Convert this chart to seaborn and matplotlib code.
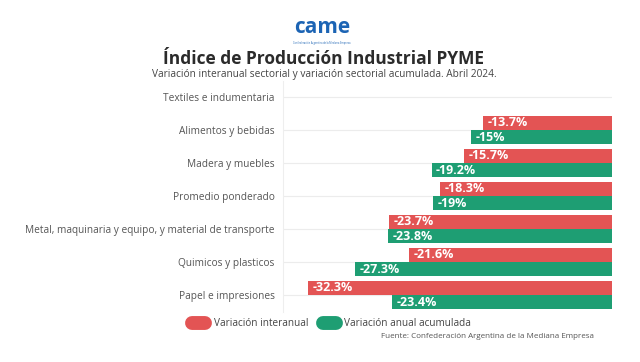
import numpy as np
import pandas as pd
import matplotlib.pyplot as plt
from matplotlib.lines import Line2D
import seaborn as sns

categories = ['Textiles e indumentaria', 'Alimentos y bebidas', 'Madera y muebles',
              'Promedio ponderado', 'Metal, maquinaria y equipo, y material de transporte',
              'Quimicos y plasticos', 'Papel e impresiones']
interanual = [np.nan, -13.7, -15.7, -18.3, -23.7, -21.6, -32.3]
acumulada = [np.nan, -15.0, -19.2, -19.0, -23.8, -27.3, -23.4]
series = ['Variación interanual', 'Variación anual acumulada']
colors = ['#e35454', '#1e9e73']

df = pd.DataFrame({
    'sector': categories * 2,
    'serie': [series[0]] * len(categories) + [series[1]] * len(categories),
    'valor': interanual + acumulada,
})

sns.set_style('white')
plt.rcParams['font.family'] = ['Open Sans', 'DejaVu Sans']

fig = plt.figure(figsize=(6.4, 3.62), dpi=100)
ax = fig.add_axes([283 / 640, 1 - 311.5 / 362, 329 / 640, 231 / 362])

sns.barplot(data=df, y='sector', x='valor', hue='serie', order=categories,
            hue_order=series, palette=colors, orient='h', width=0.86,
            saturation=1, legend=False, linewidth=0, ax=ax, zorder=2)

ax.set_xlim(-35, 0)
ax.set_ylim(len(categories) - 0.5, -0.5)
for i in range(len(categories)):
    ax.axhline(i, color='#ececec', lw=0.8, zorder=0)

# value labels inside the left end of each bar (NaN rows have no bar)
for cont, vals in zip(ax.containers, [interanual, acumulada]):
    shown = [v for v in vals if not np.isnan(v)]
    for bar, v in zip(cont, shown):
        ax.text(v + 0.45, bar.get_y() + bar.get_height() / 2, f'{v:g}%',
                color='white', fontsize=9, fontweight='bold', va='center', ha='left', zorder=3)

ax.set_xlabel('')
ax.set_ylabel('')
ax.set_xticks([])
ax.tick_params(axis='y', length=0, pad=6, labelsize=7.3, labelcolor='#555555')
for s in ['top', 'right', 'bottom']:
    ax.spines[s].set_visible(False)
ax.spines['left'].set_color('#eeeeee')

# header
fig.text(0.503, 0.925, 'came', ha='center', va='center', fontsize=15,
         fontweight='bold', color='#1c64b4')
fig.text(0.503, 0.880, 'Confederación Argentina de la Mediana Empresa', ha='center',
         va='center', fontsize=1.8, color='#1c64b4')
fig.text(0.506, 0.838, 'Índice de Producción Industrial PYME', ha='center', va='center',
         fontsize=12.5, fontweight='bold', color='#2b2b2b')
fig.text(0.506, 0.793, 'Variación interanual sectorial y variación sectorial acumulada. Abril 2024.',
         ha='center', va='center', fontsize=7.3, color='#444444')

handles = [Line2D([0], [0], color=c, lw=10, solid_capstyle='round') for c in colors]
fig.legend(handles, series, loc='center left', bbox_to_anchor=(183 / 640, 1 - 324 / 362),
           ncol=2, frameon=False, fontsize=7.2, handlelength=1.25, handletextpad=0.9,
           columnspacing=1.5, labelcolor='#444444')
fig.text(594 / 640, 1 - 337 / 362, 'Fuente: Confederación Argentina de la Mediana Empresa',
         ha='right', va='center', fontsize=5.75, color='#555555')

fig.savefig('out.png', dpi=100, facecolor='white')
